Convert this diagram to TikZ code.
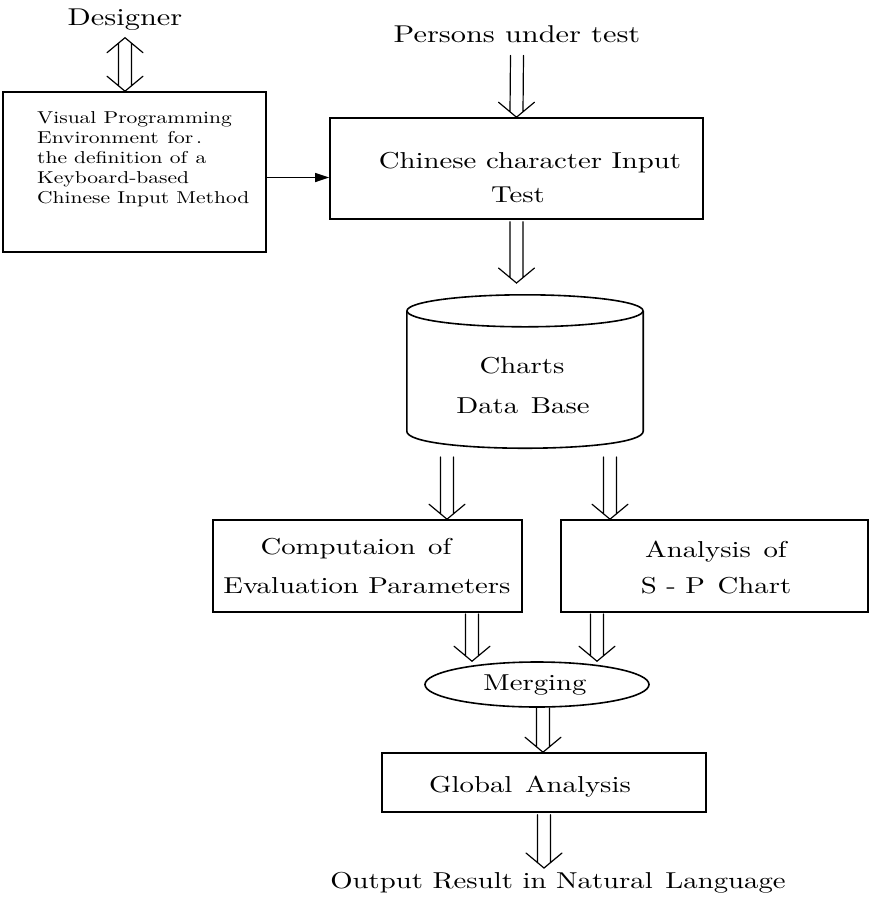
\documentclass[tikz,border=0pt]{standalone}
\usepackage{fontspec}
\setmainfont{lmroman10-regular.otf}[FakeStretch=1.25]
\usetikzlibrary{calc,arrows.meta,shapes.geometric}
\begin{document}
\begin{tikzpicture}[x=1pt, y=-1pt,
  box/.style={draw, line width=1.6pt, inner sep=0pt},
  lbl/.style={inner sep=0pt, anchor=base, font=\fontsize{23}{27}\selectfont},
  tlbl/.style={inner sep=0pt, anchor=base, font=\fontsize{24.3}{28}\selectfont},
  slbl/.style={inner sep=0pt, anchor=base west, font=\fontsize{17.2}{20}\selectfont},
  dbl/.style={line width=1.2pt, line cap=round, to path={
    ($(\tikztostart)+(-6.5,0)$) -- ($(\tikztotarget)+(-6.5,-5.4)$)
    ($(\tikztostart)+(6.5,0)$) -- ($(\tikztotarget)+(6.5,-5.4)$)
    ($(\tikztotarget)+(-18,-15)$) -- (\tikztotarget) -- ($(\tikztotarget)+(18,-15)$)}},
  dblboth/.style={line width=1.2pt, line cap=round, to path={
    ($(\tikztostart)+(-6.5,5.4)$) -- ($(\tikztotarget)+(-6.5,-5.4)$)
    ($(\tikztostart)+(6.5,5.4)$) -- ($(\tikztotarget)+(6.5,-5.4)$)
    ($(\tikztostart)+(-18,15)$) -- (\tikztostart) -- ($(\tikztostart)+(18,15)$)
    ($(\tikztotarget)+(-18,-15)$) -- (\tikztotarget) -- ($(\tikztotarget)+(18,-15)$)}},
  sarrow/.style={line width=1.3pt, -{Triangle[length=14pt,width=9pt]}},
]
\useasboundingbox (0,0) rectangle (872,903);

% boxes
\node[box, minimum width=263, minimum height=160] (vpe) at (134.5,172) {};
\node[box, minimum width=373, minimum height=101] (chin) at (516.5,168.5) {};
\node[inner sep=0pt, minimum width=236, minimum height=153] (db) at (525,371.5) {};
\node[box, minimum width=309, minimum height=92] (cp) at (367.5,566) {};
\node[box, minimum width=307, minimum height=92] (sp) at (714.5,566) {};
\node[box, ellipse, minimum width=224, minimum height=45] (mg) at (537,684.5) {};
\node[box, minimum width=324, minimum height=59] (gl) at (544,782.5) {};

% cylinder outline
\draw[line width=1.6pt] ($(db.north west)+(0,16)$) -- ($(db.south west)+(0,-17)$)
  .. controls +(0,22.7) and +(0,22.7) .. ($(db.south east)+(0,-17)$)
  -- ($(db.north east)+(0,16)$);
\draw[line width=1.6pt] ($(db.north)+(0,16)$) ellipse [x radius=118, y radius=16];

% texts
\node[tlbl] (designer) at (125,25) {Designer};
\node[tlbl] (persons) at (517,42) {Persons under test};
\node[slbl] (v1) at (37,123) {Visual Programming};
\node[slbl] (v2) at (37,143) {Environment\hspace{0.5em}for\,.};
\node[slbl] (v3) at (37,163) {the definition of\hspace{0.5em}a};
\node[slbl] (v4) at (37,183) {Keyboard-based};
\node[slbl] (v5) at (37,203) {Chinese Input Method};
\node[lbl] (c1) at (530,168) {Chinese character Input};
\node[lbl] (c2) at (518,202) {Test};
\node[lbl] (d1) at (522,373) {Charts};
\node[lbl] (d2) at (523,413) {Data\hspace{0.55em}Base};
\node[lbl] (p1) at (356,554) {Computaion\hspace{0.55em}of};
\node[lbl] (p2) at (367,593) {Evaluation Parameters};
\node[lbl] (s1) at (716,557) {Analysis\hspace{0.55em}of};
\node[lbl] (s2) at (716,593) {S - P\hspace{0.55em}Chart};
\node[lbl] (mt) at (535,690) {Merging};
\node[lbl] (gt) at (530,792) {Global\hspace{0.55em}Analysis};
\node[lbl] (out) at (558,888) {Output Result in Natural\hspace{0.55em}Language};

% helper coordinates
\coordinate (hc) at (300,177.5);
\coordinate (dbin) at (516.5,283);
\coordinate (dbL) at (447,457);
\coordinate (dbR) at (610,457);
\coordinate (cpout) at (472,614);
\coordinate (spout) at (597,614);
\coordinate (mgout) at (543,708);
\coordinate (outin) at (544,868);

% connectors
\draw[dblboth] ([yshift=-7.5pt]designer.south) to (designer.south |- vpe.north);
\draw[dbl] ([yshift=-13pt]persons.south) to (chin.north);
\draw[sarrow] (vpe.east |- hc) -- (chin.west |- hc);
\draw[dbl] ([yshift=-2pt]chin.south) to (dbin);
\draw[dbl] (dbL) to (dbL |- cp.north);
\draw[dbl] (dbR) to (dbR |- sp.north);
\draw[dbl] (cpout) to (cpout |- mg.north);
\draw[dbl] (spout) to (spout |- mg.north);
\draw[dbl] (mgout) to (mgout |- gl.north);
\draw[dbl] ([yshift=-2pt]gl.south) to (outin);
\end{tikzpicture}
\end{document}
